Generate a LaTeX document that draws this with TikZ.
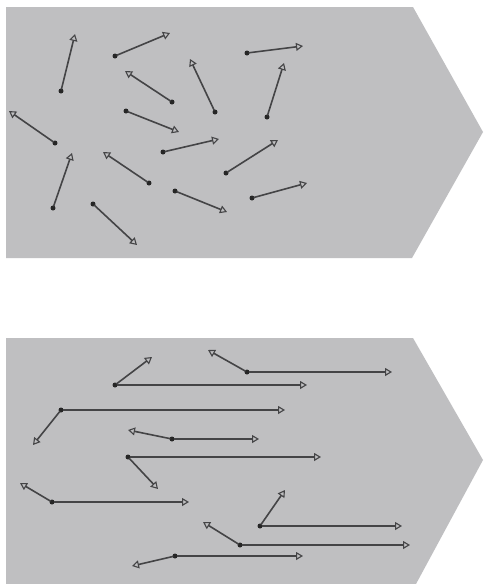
\documentclass[tikz,border=0pt]{standalone}
\usetikzlibrary{arrows.meta}
\definecolor{panelgray}{RGB}{191,191,193}
\definecolor{linegray}{RGB}{68,68,70}
\begin{document}
\begin{tikzpicture}[x=1pt,y=-1pt,
  panel/.style={fill=panelgray,draw=none},
  dot/.style={circle,fill=black!85,inner sep=0pt,minimum size=5pt},
  arr/.style={draw=linegray,line width=1.6pt,-{Triangle[open,length=7pt,width=8pt,line width=1.1pt]},shorten <=-1pt},
  longarr/.style={draw=linegray,line width=1.4pt,-{Triangle[open,length=7pt,width=8pt,line width=1.1pt]},shorten <=-1pt}]
\useasboundingbox (0,0) rectangle (485,584);
\fill[white] (0,0) rectangle (485,584);
% panels
\path[panel] (6,7) -- (413,7) -- (483,132) -- (412,258) -- (6,258) -- cycle;
\path[panel] (6,338) -- (413,338) -- (483,460) -- (416,584) -- (6,584) -- cycle;
% top panel: random arrows
\foreach \i/\ax/\ay/\bx/\by in {
  1/61/91/75/34, 2/115/56/170/33, 3/172/102/125/71, 4/215/112/190/59,
  5/126/111/179/132, 6/247/53/303/46, 7/267/117/284/63, 8/55/143/9/111,
  9/163/152/219/139, 10/53/208/72/153, 11/149/183/103/152, 12/226/173/278/140,
  13/175/191/227/212, 14/252/198/307/183, 15/93/204/137/245}{
  \node[dot] (t\i) at (\ax,\ay) {};
  \coordinate (th\i) at (\bx,\by);
  \draw[arr] (t\i) -- (th\i);
}
% bottom panel: short arrows plus long horizontal arrows
\foreach \i/\ax/\ay/\bx/\by/\lx in {
  1/115/385/152/357/307, 2/247/372/208/350/392, 3/61/410/33/445/285,
  4/172/439/128/430/259, 5/128/457/158/489/321, 6/52/502/20/483/189,
  7/260/526/285/490/402, 8/240/545/203/522/410, 9/175/556/132/566/303}{
  \node[dot] (b\i) at (\ax,\ay) {};
  \coordinate (bs\i) at (\bx,\by);
  \coordinate (bl\i) at (\lx,\ay);
  \draw[arr] (b\i) -- (bs\i);
  \draw[longarr] (b\i) -- (bl\i);
}
\end{tikzpicture}
\end{document}
